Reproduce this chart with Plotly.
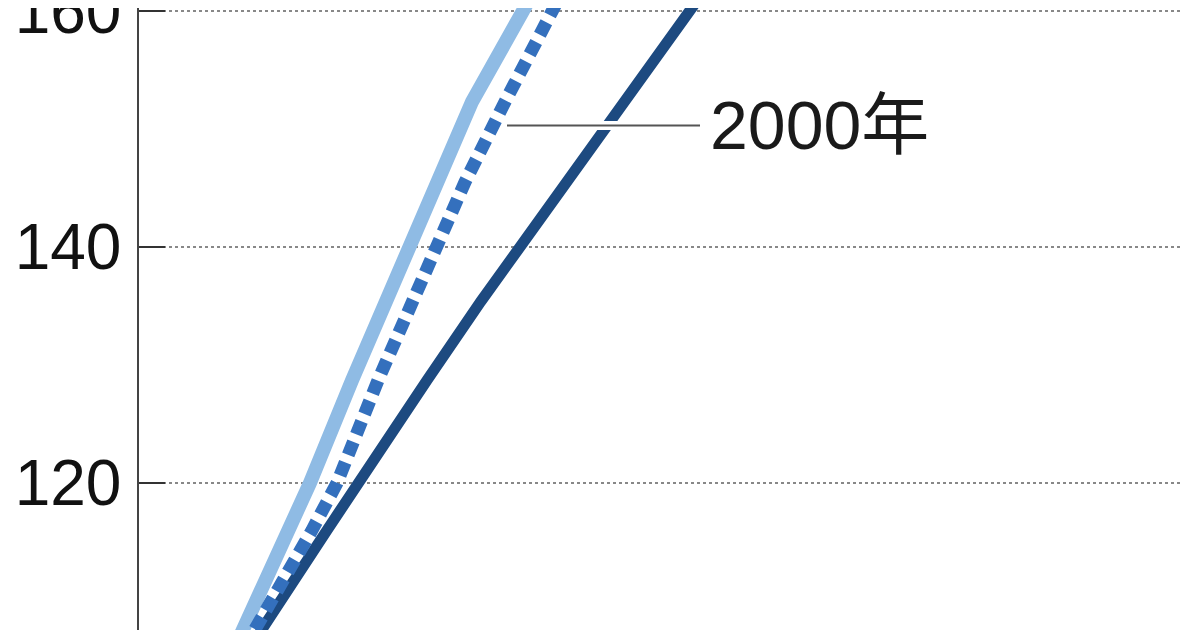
import plotly.graph_objects as go

heights = [105.9, 107.6, 116.0, 120.0, 128.7, 135.4, 140.0, 145.5, 152.3, 160.0, 162.4]

# horizontal position of each line at those heights (x axis not shown in the crop)
light_x = [0.95, 1.04, 1.49, 1.71, 2.13, 2.48, 2.71, 2.98, 3.33, 3.84, 3.99]
dotted_x = [1.07, 1.16, 1.73, 1.98, 2.39, 2.74, 2.98, 3.26, 3.66, 4.14, 4.28]
navy_x = [1.11, 1.23, 1.88, 2.19, 2.88, 3.42, 3.81, 4.27, 4.84, 5.51, 5.71]

y_ticks = [120, 140, 160]
label_text = "2000年"
label_y = 150.3
leader_x = [3.68, 5.61]

fig = go.Figure()

fig.add_trace(go.Scatter(x=light_x, y=heights, mode="lines",
                         line=dict(color="#8fbbe4", width=14), hoverinfo="skip"))
fig.add_trace(go.Scatter(x=navy_x, y=heights, mode="lines",
                         line=dict(color="#1d4a80", width=11), hoverinfo="skip"))
fig.add_trace(go.Scatter(x=dotted_x, y=heights, mode="lines",
                         line=dict(color="#3470bd", width=13, dash="14px,8px"),
                         hoverinfo="skip"))

# leader line to the dotted series, with a white halo where it crosses the navy line
fig.add_trace(go.Scatter(x=leader_x, y=[label_y, label_y], mode="lines",
                         line=dict(color="white", width=9), hoverinfo="skip"))
fig.add_trace(go.Scatter(x=leader_x, y=[label_y, label_y], mode="lines",
                         line=dict(color="#555555", width=2), hoverinfo="skip"))

fig.add_annotation(x=leader_x[1], y=label_y, text=label_text, showarrow=False,
                   xanchor="left", yanchor="middle", xshift=8,
                   font=dict(family="Liberation Sans, Noto Sans CJK JP", size=68, color="#1a1a1a"))

# the page body keeps its default 8px margin, so the figure is sized to the rest of the window
fig.update_layout(
    width=1192, height=622,
    margin=dict(l=131, r=17, t=0, b=0),
    paper_bgcolor="white", plot_bgcolor="white",
    showlegend=False,
)
fig.update_xaxes(range=[0, 10.44], visible=False)
fig.update_yaxes(
    range=[107.54, 160.25],
    tickvals=y_ticks,
    automargin=False,
    ticklabeloverflow="allow",
    showline=True, linecolor="#444444", linewidth=1.5,
    ticks="inside", ticklen=26, tickwidth=2, tickcolor="#333333",
    showgrid=True, gridcolor="#888888", gridwidth=1.5, griddash="dot",
    zeroline=False,
    ticklabelstandoff=3,
    tickfont=dict(family="Liberation Sans", size=64, color="#111111"),
)

fig.write_html("out.html")
